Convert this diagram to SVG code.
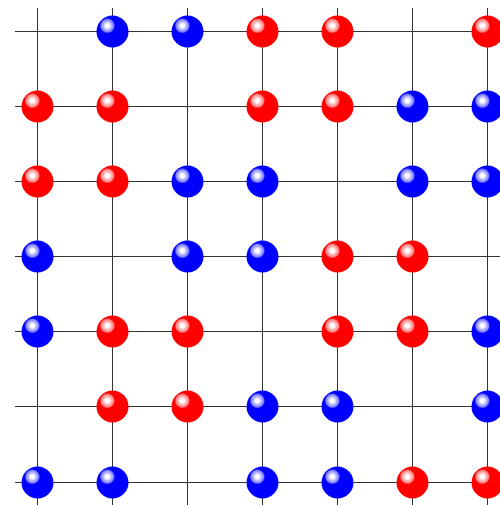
<svg xmlns="http://www.w3.org/2000/svg" width="500" height="505" viewBox="0 0 500 505">
<defs>
<radialGradient id="gb" cx="0.34" cy="0.32" fx="0.34" fy="0.32" r="0.65">
<stop offset="0" stop-color="#ffffff"/>
<stop offset="0.09" stop-color="#ffffff"/>
<stop offset="0.18" stop-color="#c0c0ff"/>
<stop offset="0.3" stop-color="#8080ff"/>
<stop offset="0.37" stop-color="#0000ff"/>
<stop offset="1" stop-color="#0000ff"/>
</radialGradient>
<radialGradient id="gr" cx="0.34" cy="0.32" fx="0.34" fy="0.32" r="0.65">
<stop offset="0" stop-color="#ffffff"/>
<stop offset="0.09" stop-color="#ffffff"/>
<stop offset="0.18" stop-color="#ffc0c0"/>
<stop offset="0.3" stop-color="#ff8080"/>
<stop offset="0.37" stop-color="#ff0000"/>
<stop offset="1" stop-color="#ff0000"/>
</radialGradient>
</defs>
<style>
.grid line{stroke:#333;stroke-width:1}
.b{fill:url(#gb)}
.r{fill:url(#gr)}
</style>
<g id="connectors" class="grid">
<line x1="37.5" y1="8" x2="37.5" y2="505"/>
<line x1="112.5" y1="8" x2="112.5" y2="505"/>
<line x1="187.5" y1="8" x2="187.5" y2="505"/>
<line x1="262.5" y1="8" x2="262.5" y2="505"/>
<line x1="337.5" y1="8" x2="337.5" y2="505"/>
<line x1="412.5" y1="8" x2="412.5" y2="505"/>
<line x1="487.5" y1="8" x2="487.5" y2="505"/>
<line x1="15" y1="31.5" x2="500" y2="31.5"/>
<line x1="15" y1="106.5" x2="500" y2="106.5"/>
<line x1="15" y1="181.5" x2="500" y2="181.5"/>
<line x1="15" y1="256.5" x2="500" y2="256.5"/>
<line x1="15" y1="331.5" x2="500" y2="331.5"/>
<line x1="15" y1="406.5" x2="500" y2="406.5"/>
<line x1="15" y1="482.5" x2="500" y2="482.5"/>
</g>
<g id="n0-1"><circle class="b" cx="112.5" cy="31.5" r="16"/></g>
<g id="n0-2"><circle class="b" cx="187.5" cy="31.5" r="16"/></g>
<g id="n0-3"><circle class="r" cx="262.5" cy="31.5" r="16"/></g>
<g id="n0-4"><circle class="r" cx="337.5" cy="31.5" r="16"/></g>
<g id="n0-6"><circle class="r" cx="487.5" cy="31.5" r="16"/></g>
<g id="n1-0"><circle class="r" cx="37.5" cy="106.5" r="16"/></g>
<g id="n1-1"><circle class="r" cx="112.5" cy="106.5" r="16"/></g>
<g id="n1-3"><circle class="r" cx="262.5" cy="106.5" r="16"/></g>
<g id="n1-4"><circle class="r" cx="337.5" cy="106.5" r="16"/></g>
<g id="n1-5"><circle class="b" cx="412.5" cy="106.5" r="16"/></g>
<g id="n1-6"><circle class="b" cx="487.5" cy="106.5" r="16"/></g>
<g id="n2-0"><circle class="r" cx="37.5" cy="181.5" r="16"/></g>
<g id="n2-1"><circle class="r" cx="112.5" cy="181.5" r="16"/></g>
<g id="n2-2"><circle class="b" cx="187.5" cy="181.5" r="16"/></g>
<g id="n2-3"><circle class="b" cx="262.5" cy="181.5" r="16"/></g>
<g id="n2-5"><circle class="b" cx="412.5" cy="181.5" r="16"/></g>
<g id="n2-6"><circle class="b" cx="487.5" cy="181.5" r="16"/></g>
<g id="n3-0"><circle class="b" cx="37.5" cy="256.5" r="16"/></g>
<g id="n3-2"><circle class="b" cx="187.5" cy="256.5" r="16"/></g>
<g id="n3-3"><circle class="b" cx="262.5" cy="256.5" r="16"/></g>
<g id="n3-4"><circle class="r" cx="337.5" cy="256.5" r="16"/></g>
<g id="n3-5"><circle class="r" cx="412.5" cy="256.5" r="16"/></g>
<g id="n4-0"><circle class="b" cx="37.5" cy="331.5" r="16"/></g>
<g id="n4-1"><circle class="r" cx="112.5" cy="331.5" r="16"/></g>
<g id="n4-2"><circle class="r" cx="187.5" cy="331.5" r="16"/></g>
<g id="n4-4"><circle class="r" cx="337.5" cy="331.5" r="16"/></g>
<g id="n4-5"><circle class="r" cx="412.5" cy="331.5" r="16"/></g>
<g id="n4-6"><circle class="b" cx="487.5" cy="331.5" r="16"/></g>
<g id="n5-1"><circle class="r" cx="112.5" cy="406.5" r="16"/></g>
<g id="n5-2"><circle class="r" cx="187.5" cy="406.5" r="16"/></g>
<g id="n5-3"><circle class="b" cx="262.5" cy="406.5" r="16"/></g>
<g id="n5-4"><circle class="b" cx="337.5" cy="406.5" r="16"/></g>
<g id="n5-6"><circle class="b" cx="487.5" cy="406.5" r="16"/></g>
<g id="n6-0"><circle class="b" cx="37.5" cy="482.5" r="16"/></g>
<g id="n6-1"><circle class="b" cx="112.5" cy="482.5" r="16"/></g>
<g id="n6-3"><circle class="b" cx="262.5" cy="482.5" r="16"/></g>
<g id="n6-4"><circle class="b" cx="337.5" cy="482.5" r="16"/></g>
<g id="n6-5"><circle class="r" cx="412.5" cy="482.5" r="16"/></g>
<g id="n6-6"><circle class="r" cx="487.5" cy="482.5" r="16"/></g>
</svg>
